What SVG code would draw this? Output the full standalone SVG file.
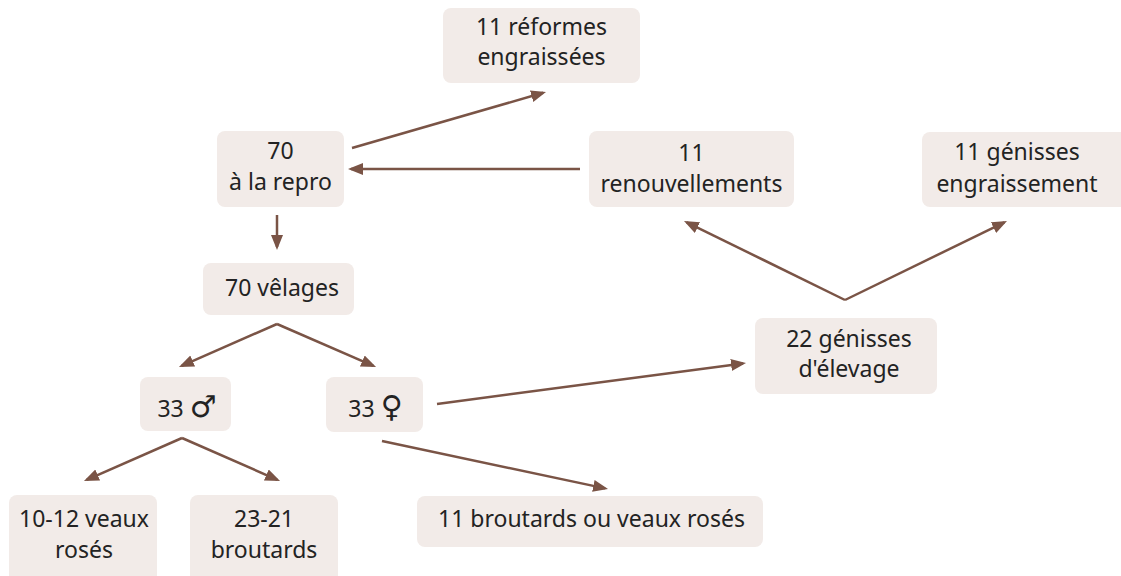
<svg xmlns="http://www.w3.org/2000/svg" width="1121" height="576" viewBox="0 0 1121 576">
  <style>
    .box { fill: #f2ebe8; }
    .lbl { font-family: "Noto Sans", "DejaVu Sans", sans-serif; font-size: 23px; fill: #232323; text-anchor: middle; }
    .sym { font-family: "DejaVu Sans", sans-serif; font-size: 30px; }
    .edge { stroke: #7a5446; stroke-width: 2.5; fill: none; marker-end: url(#arrow); }
  </style>
  <defs>
    <marker id="arrow" markerUnits="userSpaceOnUse" markerWidth="16" markerHeight="14" refX="12" refY="6" orient="auto">
      <path d="M0,0 L15,6 L0,12 z" fill="#7a5446"/>
    </marker>
  </defs>

  <!-- nodes -->
  <g id="reformes">
    <rect class="box" x="443" y="8" width="197" height="75" rx="8"/>
    <text class="lbl" x="541.5" y="35">11 réformes</text>
    <text class="lbl" x="541.5" y="65">engraissées</text>
  </g>
  <g id="repro">
    <rect class="box" x="217" y="131" width="127" height="76" rx="8"/>
    <text class="lbl" x="280.5" y="159">70</text>
    <text class="lbl" x="280.5" y="190">à la repro</text>
  </g>
  <g id="renouvellements">
    <rect class="box" x="589" y="131" width="205" height="76" rx="8"/>
    <text class="lbl" x="691.5" y="161">11</text>
    <text class="lbl" x="691.5" y="192">renouvellements</text>
  </g>
  <g id="genisses-engraissement">
    <rect class="box" x="922" y="132" width="210" height="75" rx="8"/>
    <text class="lbl" x="1017" y="160">11 génisses</text>
    <text class="lbl" x="1017" y="192">engraissement</text>
  </g>
  <g id="velages">
    <rect class="box" x="203" y="263" width="151" height="52" rx="8"/>
    <text class="lbl" x="282" y="296">70 vêlages</text>
  </g>
  <g id="genisses-elevage">
    <rect class="box" x="755" y="318" width="182" height="76" rx="8"/>
    <text class="lbl" x="849" y="347">22 génisses</text>
    <text class="lbl" x="849" y="377">d'élevage</text>
  </g>
  <g id="males">
    <rect class="box" x="140" y="377" width="91" height="54" rx="8"/>
    <text class="lbl" x="187" y="417">33 <tspan class="sym">♂</tspan></text>
  </g>
  <g id="femelles">
    <rect class="box" x="326" y="377" width="97" height="55" rx="8"/>
    <text class="lbl" x="375.5" y="417">33 <tspan class="sym">♀</tspan></text>
  </g>
  <g id="veaux-roses">
    <rect class="box" x="9" y="495" width="148" height="90" rx="8"/>
    <text class="lbl" x="84" y="527">10-12 veaux</text>
    <text class="lbl" x="84" y="558">rosés</text>
  </g>
  <g id="broutards">
    <rect class="box" x="190" y="495" width="148" height="90" rx="8"/>
    <text class="lbl" x="264" y="527">23-21</text>
    <text class="lbl" x="264" y="558">broutards</text>
  </g>
  <g id="broutards-ou-veaux">
    <rect class="box" x="417" y="496" width="346" height="51" rx="8"/>
    <text class="lbl" x="591.5" y="527">11 broutards ou veaux rosés</text>
  </g>

  <!-- connectors -->
  <g id="connectors">
    <path class="edge" d="M352,148 L543.1,92.8"/>
    <path class="edge" d="M580,169 L351,169"/>
    <path class="edge" d="M277,215 L277,247"/>
    <path class="edge" d="M277,324 L181.7,365.8"/>
    <path class="edge" d="M277,324 L373.3,365.8"/>
    <path class="edge" d="M182,438 L86.7,479.8"/>
    <path class="edge" d="M182,438 L277.3,479.8"/>
    <path class="edge" d="M437,404 L743,363.4"/>
    <path class="edge" d="M382,441 L605.1,488.4"/>
    <path class="edge" d="M845,300 L686.7,222.3"/>
    <path class="edge" d="M845,300 L1004.3,222.3"/>
  </g>
</svg>
